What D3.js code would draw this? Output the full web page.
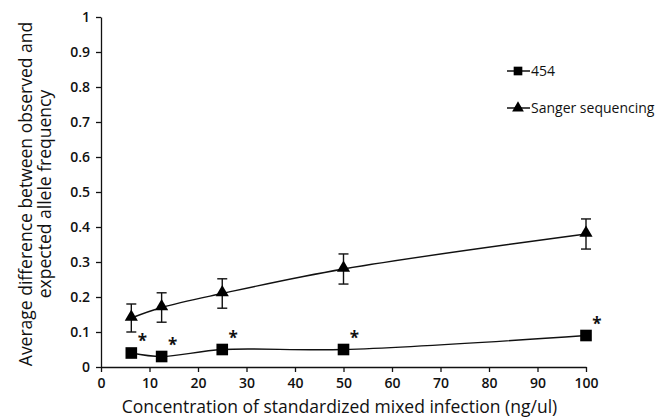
<!DOCTYPE html>
<html>
<head>
<meta charset="utf-8">
<script src="https://cdnjs.cloudflare.com/ajax/libs/d3/7.8.5/d3.min.js"></script>
<style>
  body { margin: 0; background: #fff; }
  text { font-family: "Open Sans", sans-serif; fill: #111; }
</style>
</head>
<body>
<svg></svg>
<script>
// chart size
let width = 665
let height = 420

// data
const concentrations = [6.25, 12.5, 25, 50, 100]
const values454 = [0.04, 0.03, 0.05, 0.05, 0.09]
const valuesSanger = [0.14, 0.17, 0.21, 0.28, 0.38]
const errSanger = [0.04, 0.042, 0.042, 0.043, 0.043]
const xTicks = [0, 10, 20, 30, 40, 50, 60, 70, 80, 90, 100]
const yTicks = [0, 0.1, 0.2, 0.3, 0.4, 0.5, 0.6, 0.7, 0.8, 0.9, 1]
const legendNames = ['454', 'Sanger sequencing']

let svg = d3.select('svg').attr('width', width).attr('height', height)

// scales
let xScale = d3.scaleLinear().domain([0, 100]).range([101, 586])
let yScale = d3.scaleLinear().domain([0, 1]).range([367, 17])

// axes
let xAxis = d3.axisBottom(xScale).tickValues(xTicks).tickSize(5).tickPadding(6).tickSizeOuter(0)
let yAxis = d3.axisLeft(yScale).tickValues(yTicks).tickSize(5).tickPadding(6)
  .tickFormat(d => d3.format('')(d)).tickSizeOuter(0)

let gx = svg.append('g').attr('transform', 'translate(0,' + yScale(0) + ')').call(xAxis)
let gy = svg.append('g').attr('transform', 'translate(' + xScale(0) + ',0)').call(yAxis)
for (let g of [gx, gy]) {
  g.select('.domain').attr('stroke', '#111').attr('stroke-width', 1.3)
  g.selectAll('.tick line').attr('stroke', '#111').attr('stroke-width', 1.3)
  g.selectAll('.tick text').style('font-size', '14px').style('font-weight', 600)
    .style('font-family', '"Open Sans", sans-serif').attr('fill', '#111')
}

// axis titles
svg.append('text')
  .attr('x', (xScale(0) + xScale(100)) / 2 - 4).attr('y', 413)
  .attr('text-anchor', 'middle').style('font-size', '17.5px')
  .text('Concentration of standardized mixed infection (ng/ul)')

let yt = svg.append('text')
  .attr('transform', 'translate(0,194) rotate(-90)')
  .attr('text-anchor', 'middle').style('font-size', '17.5px')
yt.append('tspan').attr('x', 0).attr('y', 32).text('Average difference between observed and')
yt.append('tspan').attr('x', 0).attr('y', 51).text('expected allele frequency')

// lines
let line = d3.line().curve(d3.curveCatmullRom.alpha(0.5))
  .x((d, i) => xScale(concentrations[i])).y(d => yScale(d))

for (let vals of [values454, valuesSanger]) {
  svg.append('path').attr('d', line(vals))
    .attr('fill', 'none').attr('stroke', '#111').attr('stroke-width', 1.4)
}

// error bars for Sanger
let eb = svg.append('g').attr('stroke', '#111').attr('stroke-width', 1.4)
valuesSanger.forEach((v, i) => {
  let x = xScale(concentrations[i])
  eb.append('line').attr('x1', x).attr('x2', x).attr('y1', yScale(v + errSanger[i])).attr('y2', yScale(v - errSanger[i]))
  eb.append('line').attr('x1', x - 5).attr('x2', x + 5).attr('y1', yScale(v + errSanger[i])).attr('y2', yScale(v + errSanger[i]))
  eb.append('line').attr('x1', x - 5).attr('x2', x + 5).attr('y1', yScale(v - errSanger[i])).attr('y2', yScale(v - errSanger[i]))
})

let squareSym = d3.symbol().type(d3.symbolSquare).size(135)
let triSym = d3.symbol().type(d3.symbolTriangle).size(75)

// markers
svg.selectAll('.sq').data(values454).enter().append('path')
  .attr('d', squareSym)
  .attr('transform', (d, i) => 'translate(' + xScale(concentrations[i]) + ',' + yScale(d) + ')')
  .attr('fill', '#000')
svg.selectAll('.tri').data(valuesSanger).enter().append('path')
  .attr('d', triSym)
  .attr('transform', (d, i) => 'translate(' + xScale(concentrations[i]) + ',' + (yScale(d) - 1) + ')')
  .attr('fill', '#000')

// asterisks above 454 points
svg.selectAll('.star').data(values454).enter().append('text')
  .attr('x', (d, i) => xScale(concentrations[i]) + 11)
  .attr('y', d => yScale(d) - 6)
  .attr('text-anchor', 'middle')
  .style('font-size', '17px').style('font-weight', 700)
  .text('*')

// legend
let legend = svg.append('g')
legendNames.forEach((name, i) => {
  let y = 71 + i * 37
  legend.append('line').attr('x1', 507).attr('x2', 530).attr('y1', y).attr('y2', y)
    .attr('stroke', '#111').attr('stroke-width', 1.5)
  legend.append('path').attr('d', i === 0 ? d3.symbol().type(d3.symbolSquare).size(75)() : d3.symbol().type(d3.symbolTriangle).size(60)())
    .attr('transform', 'translate(518,' + y + ')').attr('fill', '#000')
  legend.append('text').attr('x', 531).attr('y', y + 5).style('font-size', '14px').text(name)
})
</script>
</body>
</html>
